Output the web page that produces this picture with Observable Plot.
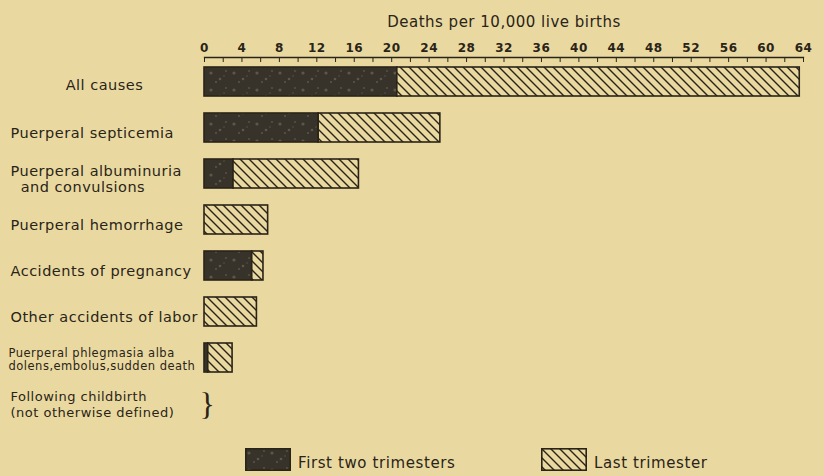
<!DOCTYPE html>
<html><head><meta charset="utf-8">
<script src="https://cdn.jsdelivr.net/npm/d3@7"></script>
<script src="https://cdn.jsdelivr.net/npm/@observablehq/plot@0.6"></script>
<style>
body{margin:0;background:#e9d9a0;width:824px;height:476px;overflow:hidden;font-family:"DejaVu Sans",sans-serif;color:#2a2418;position:relative}
#chart svg{background:#e9d9a0;display:block}
#chart svg text{white-space:pre;letter-spacing:0.5px}
#legend{position:absolute;top:448px;left:0;width:824px;height:28px}
#legend .item{position:absolute;top:0;display:flex;align-items:flex-end;font-size:15px;letter-spacing:0.6px}
#legend svg{display:block;margin-right:7px}
</style></head><body><div id="chart"></div><div id="legend"></div>
<script>
// ---- data ----
const causes = [
  "All causes",
  "Puerperal septicemia",
  "Puerperal albuminuria\n  and convulsions",
  "Puerperal hemorrhage",
  "Accidents of pregnancy",
  "Other accidents of labor",
  "Puerperal phlegmasia alba\ndolens,embolus,sudden death",
  "Following childbirth\n(not otherwise defined)"
];
const firstTwo = [20.6, 12.2, 3.1, 0, 5.1, 0, 0.4, 0];
const lastTri  = [43.0, 13.0, 13.4, 6.8, 1.2, 5.6, 2.6, 0];
const periods = ["First two trimesters", "Last trimester"];
const xTicks = d3.range(0, 65, 4);
const xMinor = d3.range(0, 65, 2);
const title = "Deaths per 10,000 live births";

// ---- table ----
const rows = [];
causes.forEach((c, i) => {
  if (firstTwo[i] > 0) rows.push({cause: c, period: periods[0], value: firstTwo[i]});
  if (lastTri[i] > 0) rows.push({cause: c, period: periods[1], value: lastTri[i]});
});

const ink = "#2a2418";
const defsMarkup = `
<pattern id="hatch" patternUnits="userSpaceOnUse" width="9" height="9">
  <rect width="9" height="9" fill="#e9d9a0"/>
  <path d="M0,0L9,9M-2,7L2,11M7,-2L11,2" stroke="${ink}" stroke-width="1.4"/>
</pattern>
<pattern id="speck" patternUnits="userSpaceOnUse" width="23" height="17">
  <rect width="23" height="17" fill="#37322a"/>
  <circle cx="4" cy="5" r="1.6" fill="#6d6754" opacity="0.7"/>
  <circle cx="13" cy="11" r="1.3" fill="#76705c" opacity="0.6"/>
  <circle cx="19" cy="3" r="1.1" fill="#625c4a" opacity="0.7"/>
  <circle cx="9" cy="14" r="0.9" fill="#7a745f" opacity="0.6"/>
  <circle cx="17" cy="8" r="0.8" fill="#6d6754" opacity="0.6"/>
</pattern>`;

const chart = Plot.plot({
  width: 824,
  height: 430,
  marginLeft: 204,
  marginRight: 21,
  marginTop: 57,
  marginBottom: 2,
  style: {background: "#e9d9a0", color: ink, fontFamily: "DejaVu Sans, sans-serif"},
  x: {domain: [0, 64], axis: null},
  y: {domain: causes, axis: null, paddingInner: 0.38, paddingOuter: 0.186},
  color: {domain: periods, range: ["url(#speck)", "url(#hatch)"]},
  marks: [
    Plot.barX(rows, {y: "cause", x: "value", fill: "period", stroke: ink, strokeWidth: 1.6}),
    Plot.frame({anchor: "top", stroke: ink, strokeWidth: 1.3}),
    Plot.axisX({anchor: "top", ticks: xMinor, tickSize: 4, dy: 4, tickFormat: () => "", stroke: ink, label: null}),
    Plot.axisX({anchor: "top", ticks: xTicks, tickSize: 0, tickPadding: 6, fontSize: 12, fontWeight: "bold", fill: ink, label: null}),
    Plot.text([title], {frameAnchor: "top", dy: -41, text: d => d, fontSize: 15, fill: ink}),
    Plot.text(causes.slice(0, 1), {y: d => d, text: d => d, frameAnchor: "left", textAnchor: "middle", dx: -100, dy: 3, fontSize: 14.5, fill: ink}),
    Plot.text(causes.slice(1, 6), {y: d => d, text: d => d, frameAnchor: "left", textAnchor: "start", dx: -194, dy: 5,
      fontSize: 14.5, lineHeight: 1.08, fill: ink}),
    Plot.text(causes.slice(6, 7), {y: d => d, text: d => d, frameAnchor: "left", textAnchor: "start", dx: -196, dy: 1,
      fontSize: 11.5, lineHeight: 1.15, fill: ink}),
    Plot.text(causes.slice(7), {y: d => d, text: d => d, frameAnchor: "left", textAnchor: "start", dx: -194, dy: 0,
      fontSize: 13, lineHeight: 1.18, fill: ink}),
    Plot.text(causes.slice(7), {y: d => d, text: () => "}", frameAnchor: "left", textAnchor: "start", dx: -5, dy: 1,
      fontSize: 32, fontFamily: "Liberation Serif, serif", fill: ink})
  ]
});
d3.select(chart).insert("defs", ":first-child").html(defsMarkup);
document.getElementById("chart").appendChild(chart);

// ---- legend ----
const legend = d3.select("#legend");
const lx = [245, 541];
periods.forEach((p, i) => {
  const item = legend.append("div").attr("class", "item").style("left", lx[i] + "px");
  const s = item.append("svg").attr("width", 46).attr("height", 23);
  s.append("defs").html(defsMarkup.replace(/id="/g, 'id="lg-'));
  s.append("rect").attr("x", 0.8).attr("y", 0.8).attr("width", 44.4).attr("height", 21.4)
    .attr("fill", i === 0 ? "url(#lg-speck)" : "url(#lg-hatch)").attr("stroke", ink).attr("stroke-width", 1.6);
  item.append("span").text(p).style("line-height", "16px");
});
</script></body></html>
